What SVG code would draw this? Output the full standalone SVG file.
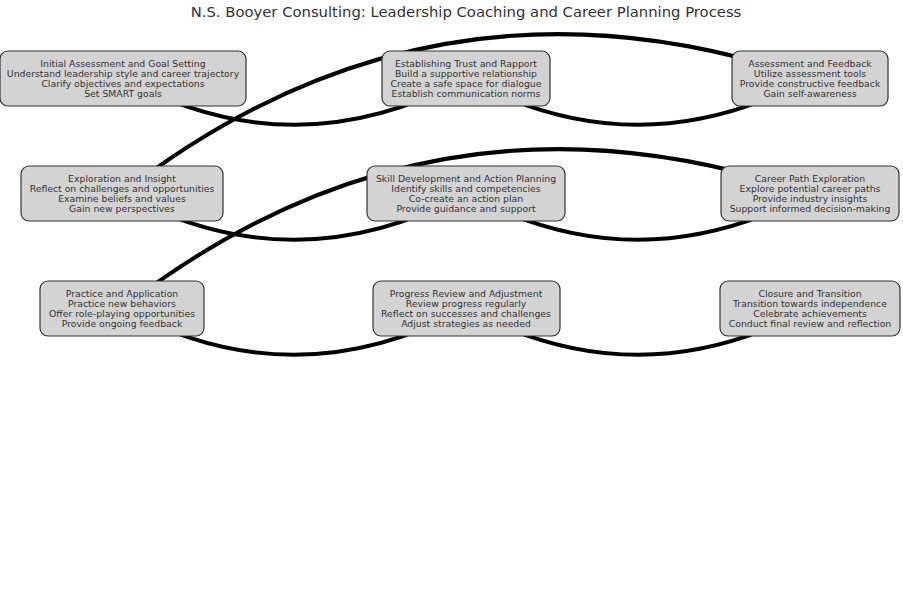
<svg xmlns="http://www.w3.org/2000/svg" width="903" height="602" viewBox="0 0 903 602">
<style>
.bg{fill:#ffffff}
.title{font-family:"DejaVu Sans",sans-serif;font-size:14.8px;fill:#333333;text-anchor:middle}
.box{fill:#d3d3d3;stroke:#333333;stroke-width:1.2}
.t{font-family:"DejaVu Sans",sans-serif;font-size:9.3px;fill:#333333;text-anchor:middle}
.e{fill:none;stroke:#000000;stroke-width:4}
</style>
<rect class="bg" x="0" y="0" width="903" height="602"/>
<text class="title" x="466" y="17">N.S. Booyer Consulting: Leadership Coaching and Career Planning Process</text>
<g id="connectors">
<path class="e" d="M123,78.5 Q294.5,171 466,78.5"/>
<path class="e" d="M466,78.5 Q638,171 810,78.5"/>
<path class="e" d="M810,78.5 Q435,-50 122,193.5"/>
<path class="e" d="M122,193.5 Q294,286 466,193.5"/>
<path class="e" d="M466,193.5 Q638,286 810,193.5"/>
<path class="e" d="M810,193.5 Q435,65 122,308.5"/>
<path class="e" d="M122,308.5 Q294,401 466,308.5"/>
<path class="e" d="M466,308.5 Q638,401 810,308.5"/>
</g>
<g id="n1">
<rect class="box" x="0" y="51" width="246" height="55" rx="8"/>
<text class="t" x="123" y="66.5">Initial Assessment and Goal Setting</text>
<text class="t" x="123" y="76.5">Understand leadership style and career trajectory</text>
<text class="t" x="123" y="86.5">Clarify objectives and expectations</text>
<text class="t" x="123" y="96.5">Set SMART goals</text>
</g>
<g id="n2">
<rect class="box" x="382" y="51" width="168" height="55" rx="8"/>
<text class="t" x="466" y="66.5">Establishing Trust and Rapport</text>
<text class="t" x="466" y="76.5">Build a supportive relationship</text>
<text class="t" x="466" y="86.5">Create a safe space for dialogue</text>
<text class="t" x="466" y="96.5">Establish communication norms</text>
</g>
<g id="n3">
<rect class="box" x="732" y="51" width="156" height="55" rx="8"/>
<text class="t" x="810" y="66.5">Assessment and Feedback</text>
<text class="t" x="810" y="76.5">Utilize assessment tools</text>
<text class="t" x="810" y="86.5">Provide constructive feedback</text>
<text class="t" x="810" y="96.5">Gain self-awareness</text>
</g>
<g id="n4">
<rect class="box" x="21" y="166" width="202" height="55" rx="8"/>
<text class="t" x="122" y="181.5">Exploration and Insight</text>
<text class="t" x="122" y="191.5">Reflect on challenges and opportunities</text>
<text class="t" x="122" y="201.5">Examine beliefs and values</text>
<text class="t" x="122" y="211.5">Gain new perspectives</text>
</g>
<g id="n5">
<rect class="box" x="367" y="166" width="198" height="55" rx="8"/>
<text class="t" x="466" y="181.5">Skill Development and Action Planning</text>
<text class="t" x="466" y="191.5">Identify skills and competencies</text>
<text class="t" x="466" y="201.5">Co-create an action plan</text>
<text class="t" x="466" y="211.5">Provide guidance and support</text>
</g>
<g id="n6">
<rect class="box" x="721" y="166" width="178" height="55" rx="8"/>
<text class="t" x="810" y="181.5">Career Path Exploration</text>
<text class="t" x="810" y="191.5">Explore potential career paths</text>
<text class="t" x="810" y="201.5">Provide industry insights</text>
<text class="t" x="810" y="211.5">Support informed decision-making</text>
</g>
<g id="n7">
<rect class="box" x="40" y="281" width="164" height="55" rx="8"/>
<text class="t" x="122" y="296.5">Practice and Application</text>
<text class="t" x="122" y="306.5">Practice new behaviors</text>
<text class="t" x="122" y="316.5">Offer role-playing opportunities</text>
<text class="t" x="122" y="326.5">Provide ongoing feedback</text>
</g>
<g id="n8">
<rect class="box" x="373" y="281" width="187" height="55" rx="8"/>
<text class="t" x="466" y="296.5">Progress Review and Adjustment</text>
<text class="t" x="466" y="306.5">Review progress regularly</text>
<text class="t" x="466" y="316.5">Reflect on successes and challenges</text>
<text class="t" x="466" y="326.5">Adjust strategies as needed</text>
</g>
<g id="n9">
<rect class="box" x="720" y="281" width="180" height="55" rx="8"/>
<text class="t" x="810" y="296.5">Closure and Transition</text>
<text class="t" x="810" y="306.5">Transition towards independence</text>
<text class="t" x="810" y="316.5">Celebrate achievements</text>
<text class="t" x="810" y="326.5">Conduct final review and reflection</text>
</g>
</svg>
